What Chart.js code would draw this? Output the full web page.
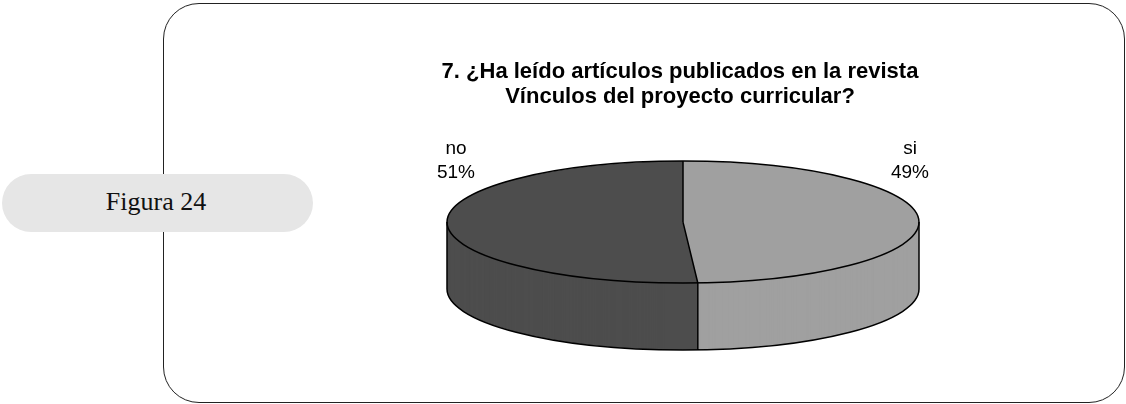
<!DOCTYPE html>
<html lang="es">
<head>
<meta charset="utf-8">
<title>Figura 24</title>
<script src="https://cdn.jsdelivr.net/npm/chart.js@4"></script>
<style>
  html, body { margin: 0; padding: 0; background: #fff; width: 1126px; height: 404px; overflow: hidden; }
  #panel { position: absolute; left: 163px; top: 3px; width: 960px; height: 398px; border: 1px solid #222; border-radius: 36px; box-sizing: content-box; }
  #pill { position: absolute; left: 2px; top: 174px; width: 311px; height: 58px; border-radius: 29px; background: #e6e6e6;
          font: 26px/56px "Liberation Serif", serif; color: #111; text-align: center; padding-right: 3px; box-sizing: border-box; }
  #c { position: absolute; left: 240px; top: 0; }
</style>
</head>
<body>
<div id="panel"></div>
<div id="pill">Figura 24</div>
<canvas id="c" width="880" height="404"></canvas>
<script>
const categories = ['si', 'no'];
const seriesValues = [49, 51];
const sliceColors = ['#a0a0a0', '#4d4d4d'];
const titleLines = ['7. ¿Ha leído artículos publicados en la revista', 'Vínculos del proyecto curricular?'];

const radiusX = 236, radiusY = 61, depth = 67, shiftX = 3;
const labelDX = 227, labelDY1 = -73, labelDY2 = -49;

const tilt = {
  id: 'tilt',
  beforeDatasetsDraw(chart) {
    const { ctx } = chart;
    const arcs = chart.getDatasetMeta(0).data;
    const a = arcs[0], sx = radiusX / a.outerRadius, sy = radiusY / a.outerRadius;
    ctx.save();
    ctx.translate(a.x + shiftX, a.y);
    // extruded side wall, built from the pie's own arcs
    for (let d = depth; d > 0; d--) {
      ctx.save();
      ctx.translate(0, d);
      ctx.scale(sx, sy);
      ctx.translate(-a.x, -a.y);
      arcs.forEach(el => el.draw(ctx));
      ctx.restore();
    }
    ctx.scale(sx, sy);
    ctx.translate(-a.x, -a.y);
  },
  afterDatasetsDraw(chart) {
    const { ctx } = chart;
    ctx.restore();
    const arcs = chart.getDatasetMeta(0).data;
    const a = arcs[0];
    const cx = a.x + shiftX, cy = a.y;
    ctx.save();
    ctx.strokeStyle = '#000';
    ctx.lineWidth = 1.5;
    ctx.lineJoin = 'round';
    const px = ang => cx + radiusX * Math.cos(ang);
    const py = ang => cy + radiusY * Math.sin(ang);
    ctx.beginPath();
    ctx.ellipse(cx, cy, radiusX, radiusY, 0, 0, Math.PI * 2);
    ctx.stroke();
    ctx.beginPath();
    ctx.ellipse(cx, cy + depth, radiusX, radiusY, 0, 0, Math.PI);
    ctx.moveTo(cx - radiusX, cy); ctx.lineTo(cx - radiusX, cy + depth);
    ctx.moveTo(cx + radiusX, cy); ctx.lineTo(cx + radiusX, cy + depth);
    arcs.forEach(el => {
      ctx.moveTo(cx, cy); ctx.lineTo(px(el.startAngle), py(el.startAngle));
      const s = Math.sin(el.startAngle);
      if (s > 0) { ctx.moveTo(px(el.startAngle), py(el.startAngle)); ctx.lineTo(px(el.startAngle), py(el.startAngle) + depth); }
    });
    ctx.stroke();
    // slice labels
    ctx.fillStyle = '#000';
    ctx.font = '19px "Liberation Sans", Arial, sans-serif';
    ctx.textAlign = 'center';
    ctx.textBaseline = 'middle';
    arcs.forEach((el, i) => {
      const mid = (el.startAngle + el.endAngle) / 2;
      const x = cx + Math.sign(Math.cos(mid)) * labelDX;
      ctx.fillText(categories[i], x, cy + labelDY1);
      ctx.fillText(seriesValues[i] + '%', x, cy + labelDY2);
    });
    ctx.restore();
  }
};

new Chart(document.getElementById('c'), {
  type: 'pie',
  data: {
    labels: categories,
    datasets: [{ data: seriesValues, backgroundColor: sliceColors, borderWidth: 0 }]
  },
  options: {
    responsive: false,
    animation: false,
    layout: { padding: { top: 59, bottom: 78 } },
    plugins: {
      legend: { display: false },
      tooltip: { enabled: false },
      title: {
        display: true,
        text: titleLines,
        color: '#000',
        font: { family: '"Liberation Sans", Arial, sans-serif', size: 22, weight: 'bold', lineHeight: 1.14 },
        padding: { top: 0, bottom: 9 }
      }
    }
  },
  plugins: [tilt]
});
</script>
</body>
</html>
